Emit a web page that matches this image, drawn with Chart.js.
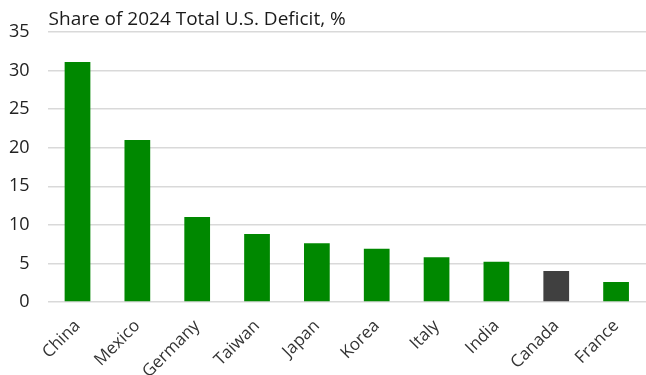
<!DOCTYPE html>
<html>
<head>
<meta charset="utf-8">
<script src="https://cdn.jsdelivr.net/npm/chart.js@4/dist/chart.umd.min.js"></script>
<style>
  html,body{margin:0;padding:0;background:#fff;}
  #wrap{width:646px;height:375px;}
</style>
</head>
<body>
<div id="wrap"><canvas id="chartDeficit" width="646" height="375"></canvas></div>
<script>
// share of the 2024 U.S. trade deficit by partner
const chartTitle='Share of 2024 Total U.S. Deficit, %';
const countries=['China','Mexico','Germany','Taiwan','Japan','Korea','Italy','India','Canada','France'];
const shares=[31.1,21.0,11.0,8.8,7.6,6.9,5.8,5.2,4.0,2.6];
const highlighted=['Canada'];
const yTicks=[0,5,10,15,20,25,30,35];

const GREEN='#008800';
const GREY='#404040';
const FONT="'Open Sans',sans-serif";

// title drawn flush with the left end of the gridlines
const leftTitle={
  id:'leftTitle',
  afterDraw(chart){
    const {ctx,chartArea}=chart;
    ctx.save();
    ctx.font='19px '+FONT;
    ctx.fillStyle='#1a1a1a';
    ctx.textBaseline='alphabetic';
    ctx.textAlign='left';
    ctx.fillText(chartTitle,chartArea.left+1,25);
    ctx.restore();
  }
};

new Chart(document.getElementById('chartDeficit'),{
  type:'bar',
  data:{
    labels:countries,
    datasets:[{
      data:shares,
      backgroundColor:countries.map(c=>highlighted.includes(c)?GREY:GREEN),
      borderWidth:0,
      barPercentage:0.86,
      categoryPercentage:0.5
    }]
  },
  options:{
    responsive:false,
    animation:false,
    layout:{padding:{top:32,right:0,left:-9,bottom:-13}},
    plugins:{legend:{display:false},tooltip:{enabled:false}},
    scales:{
      x:{
        grid:{display:false},
        border:{display:false},
        ticks:{color:'#333',font:{family:FONT,size:17},maxRotation:45,minRotation:45,padding:6}
      },
      y:{
        min:0,max:35,
        afterBuildTicks:ax=>{ax.ticks=yTicks.map(v=>({value:v}));},
        grid:{color:'#d9d9d9',lineWidth:1.5,drawTicks:false},
        border:{display:false},
        ticks:{color:'#222',font:{family:FONT,size:18},padding:18}
      }
    }
  },
  plugins:[leftTitle]
});
</script>
</body>
</html>
